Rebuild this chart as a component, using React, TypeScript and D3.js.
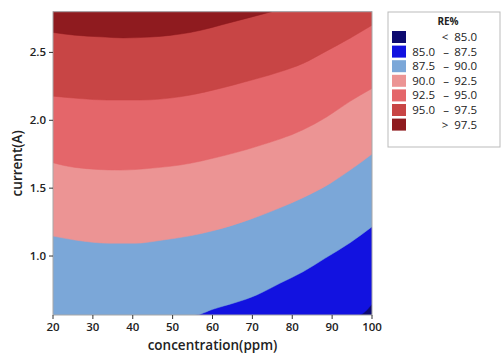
import React from 'react';
import * as d3 from 'd3';

// contour boundaries: [concentration, current]
const level975: [number, number][] = [
  [20, 2.647], [25.5, 2.627], [31.8, 2.615], [37.6, 2.607], [44.3, 2.613],
  [54.4, 2.647], [65.1, 2.725], [74.8, 2.8],
];
const level950: [number, number][] = [
  [20, 2.178], [26.8, 2.16], [33.5, 2.149], [41.8, 2.149], [51.8, 2.173],
  [60.1, 2.222], [65.1, 2.259], [71.4, 2.309], [76.9, 2.357], [82.7, 2.419],
  [88.2, 2.504], [94.5, 2.605], [100, 2.701],
];
const level925: [number, number][] = [
  [20, 1.687], [25.5, 1.653], [36.8, 1.633], [44.3, 1.646], [54.4, 1.683],
  [60.1, 1.72], [71.4, 1.81], [82.7, 1.93], [88.7, 2.026],
  [94.5, 2.14], [100, 2.235],
];
const level900: [number, number][] = [
  [20, 1.147], [25.5, 1.118], [34.3, 1.094], [40.6, 1.094], [47.6, 1.118],
  [54.4, 1.149], [60.1, 1.186], [69.4, 1.27], [76.9, 1.355], [82.7, 1.43],
  [89.5, 1.535], [94.5, 1.633], [100, 1.751],
];
const level875: [number, number][] = [
  [55.6, 0.5655], [60.1, 0.608], [71.1, 0.713], [76.9, 0.799], [82.7, 0.884],
  [88.2, 0.983], [94.5, 1.098], [100, 1.216],
];
const level850: [number, number][] = [
  [96.6, 0.5655], [100, 0.647],
];

const boundaries = [level850, level875, level900, level925, level950, level975];
const bandColors = ['#0d0a70', '#1212e0', '#7ba7d8', '#ec9494', '#e4666a', '#c84545', '#8f1b1f'];
const legendLow = ['<', '85.0', '87.5', '90.0', '92.5', '95.0', '>'];
const legendHigh = ['85.0', '87.5', '90.0', '92.5', '95.0', '97.5', '97.5'];

const xTicks = [20, 30, 40, 50, 60, 70, 80, 90, 100];
const yTicks = [1.0, 1.5, 2.0, 2.5];
const xDomain: [number, number] = [20, 100];
const yDomain: [number, number] = [0.5655, 2.8];

const W = 502;
const H = 355;
const m = { left: 53, right: 130, top: 11.7, bottom: 40 };
const font = "'Open Sans', 'Noto Sans', sans-serif";

const App: React.FC = () => {
  const x = d3.scaleLinear().domain(xDomain).range([m.left, W - m.right]);
  const y = d3.scaleLinear().domain(yDomain).range([H - m.bottom, m.top]);

  // region above each boundary, painted from lowest level upwards
  const area = d3
    .area<[number, number]>()
    .x((d) => x(d[0]))
    .y0((d) => y(d[1]))
    .y1(() => y(yDomain[1]))
    .curve(d3.curveMonotoneX);

  const regions = boundaries.map((b) => {
    const pts: [number, number][] = b[0][0] > xDomain[0] ? [[xDomain[0], yDomain[0]], ...b] : [...b];
    return area(pts) || '';
  });

  const [x0, x1] = x.range();
  const [y0, y1] = y.range();
  const tickColor = '#333';

  const lgX = 388;
  const lgY = 12;
  const rowH = 14.6;

  return (
    <svg width={W} height={H} style={{ position: 'absolute', left: 0, top: 0, background: '#fff' }}>
      <defs>
        <clipPath id="plot">
          <rect x={x0} y={y1} width={x1 - x0} height={y0 - y1} />
        </clipPath>
      </defs>
      <g clipPath="url(#plot)">
        <rect x={x0} y={y1} width={x1 - x0} height={y0 - y1} fill={bandColors[0]} />
        {regions.map((d, i) => (
          <path key={i} d={d} fill={bandColors[i + 1]} stroke={bandColors[i + 1]} strokeWidth={0.5} />
        ))}
      </g>
      <rect x={x0} y={y1} width={x1 - x0} height={y0 - y1} fill="none" stroke="#a8a8a8" strokeWidth={1} />

      {/* axes */}
      <g fontFamily={font} fontSize={11.5} fill="#222" fontWeight={600}>
        {xTicks.map((t) => (
          <g key={t} transform={`translate(${x(t)},${y0})`}>
            <line y1={0} y2={4} stroke={tickColor} />
            <text y={16} textAnchor="middle">{t}</text>
          </g>
        ))}
        {yTicks.map((t) => (
          <g key={t} transform={`translate(${x0},${y(t)})`}>
            <line x1={0} x2={-4} stroke={tickColor} />
            <text x={-7} dy="0.35em" textAnchor="end">{d3.format('.1f')(t)}</text>
          </g>
        ))}
      </g>
      <text x={(x0 + x1) / 2} y={350} textAnchor="middle" fontFamily={font} fontSize={13.5} fontWeight={600} fill="#222">
        concentration(ppm)
      </text>
      <text
        transform={`translate(22,${(y0 + y1) / 2}) rotate(-90)`}
        textAnchor="middle"
        fontFamily={font}
        fontSize={13.5}
        fontWeight={600}
        fill="#222"
      >
        current(A)
      </text>

      {/* legend */}
      <rect x={lgX} y={lgY} width={112} height={135} fill="#fff" stroke="#bbb" />
      <text x={448} y={25} textAnchor="middle" fontFamily={font} fontSize={10} fontWeight={700} fill="#222">
        RE%
      </text>
      <g fontFamily={font} fontSize={11.5} fill="#222">
        {bandColors.map((c, i) => {
          const cy = 37 + i * rowH;
          const single = i === 0 || i === bandColors.length - 1;
          return (
            <g key={i}>
              <rect x={392} y={cy - 6} width={14} height={12} fill={c} />
              {single ? (
                <text x={445} y={cy} dy="0.35em" textAnchor="middle">{legendLow[i]}</text>
              ) : (
                <>
                  <text x={435} y={cy} dy="0.35em" textAnchor="end">{legendLow[i]}</text>
                  <text x={446} y={cy} dy="0.35em" textAnchor="middle">–</text>
                </>
              )}
              <text x={477} y={cy} dy="0.35em" textAnchor="end">{legendHigh[i]}</text>
            </g>
          );
        })}
      </g>
    </svg>
  );
};

export default App;
